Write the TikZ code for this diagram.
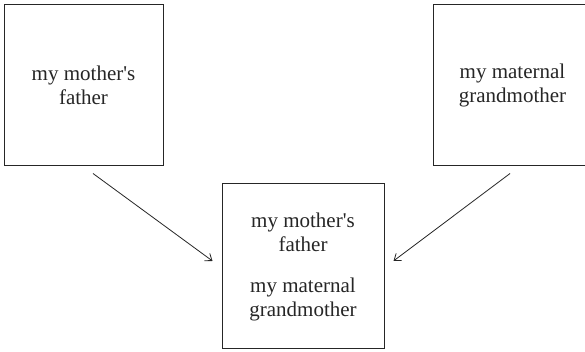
\documentclass[tikz,border=0pt]{standalone}
\usepackage{fontspec}
\setmainfont{Liberation Serif}
\usetikzlibrary{arrows.meta}
\begin{document}
\begin{tikzpicture}[x=1pt,y=1pt,
  box/.style={draw=black!85, line width=1pt, align=center, inner sep=0pt,
    font=\fontsize{21}{24}\selectfont, text=black!85},
  conn/.style={line width=0.8pt, draw=black!85, -{Straight Barb[length=6pt,width=9pt]}}]
\clip (0,0) rectangle (585,352);
\fill[white] (0,0) rectangle (585,352);
\node[box, minimum width=159pt, minimum height=161pt] (L) at (83.5,266.5) {my mother\textquotesingle s\\father};
\node[box, minimum width=159pt, minimum height=161pt] (R) at (512.5,266.5) {my maternal\\grandmother};
\node[box, minimum width=162pt, minimum height=165pt] (B) at (303,85.5) {my mother\textquotesingle s\\father\\[17pt]my maternal\\grandmother};
\draw[conn] ([xshift=9.5pt,yshift=-7pt]L.south) -- ([xshift=-9pt,yshift=5.5pt]B.west);
\draw[conn] ([xshift=-2.5pt,yshift=-7pt]R.south) -- ([xshift=9pt,yshift=5.5pt]B.east);
\end{tikzpicture}
\end{document}
